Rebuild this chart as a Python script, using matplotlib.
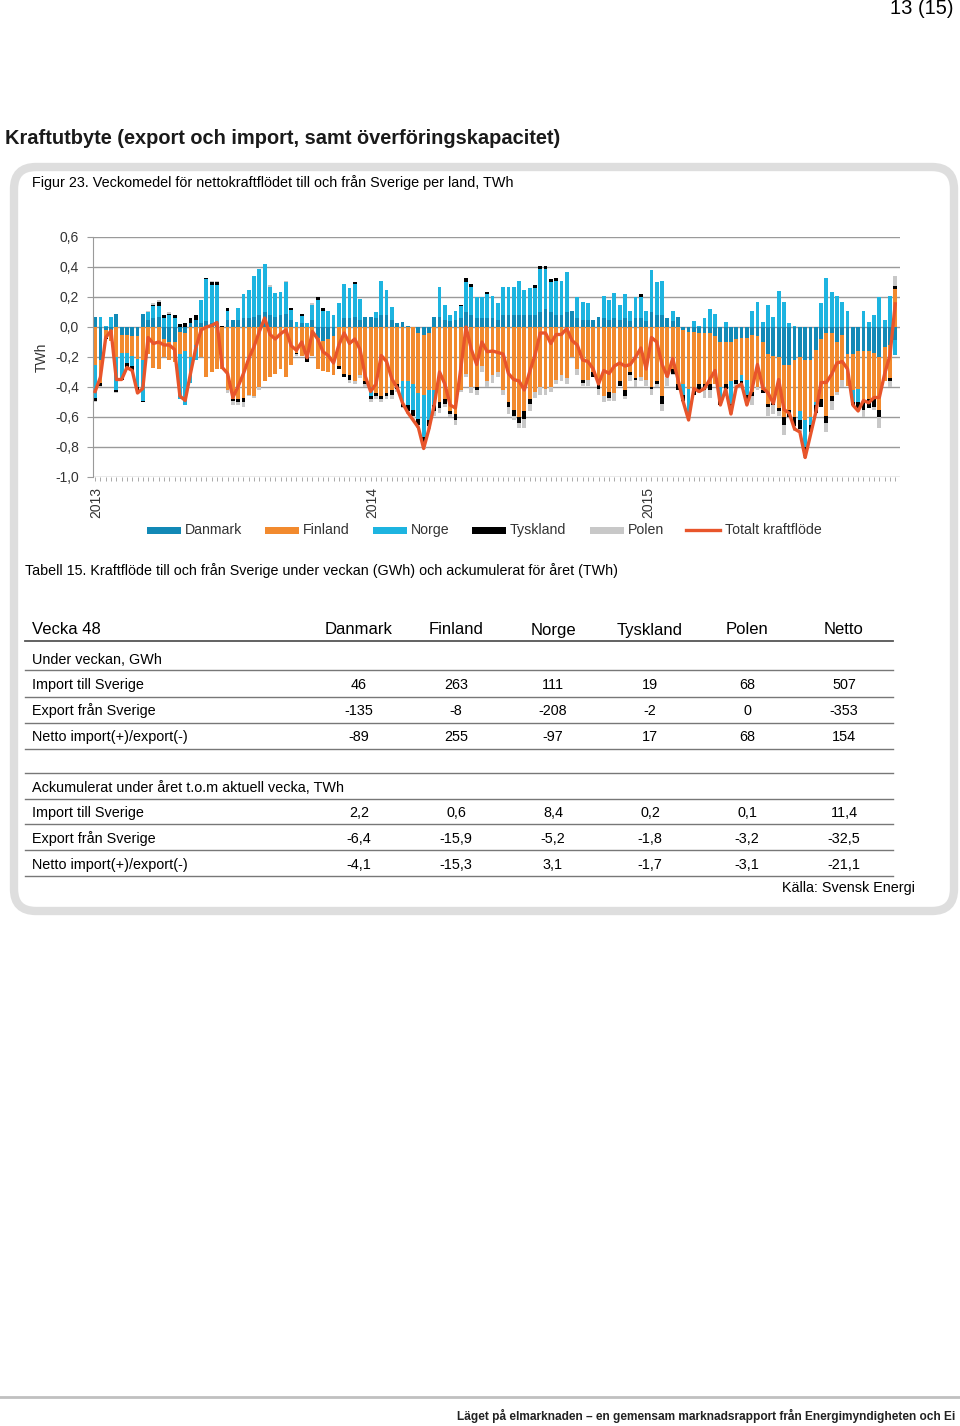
import numpy as np
import matplotlib
matplotlib.use("Agg")
import matplotlib.pyplot as plt
from matplotlib.patches import FancyBboxPatch, Rectangle
from matplotlib.lines import Line2D
import matplotlib.transforms as mtransforms

plt.rcParams['font.family'] = ['Liberation Sans', 'DejaVu Sans']

# weekly net flow per country, TWh (week 1 2013 .. week 48 2015)
danmark = [0.07, -0.22, -0.02, -0.02, 0.09, -0.05, -0.05, -0.06, -0.06, 0.09,
           0.05, 0.06, 0.07, -0.08, -0.10, -0.10, -0.03, -0.04, 0.03, 0.05,
           0.03, 0.04, 0.03, 0.03, 0.00, 0.05, 0.05, 0.05, 0.06, 0.06,
           0.07, 0.08, 0.10, 0.08, 0.07, 0.08, 0.09, 0.05, 0.00, 0.03,
           0.00, 0.05, -0.07, -0.09, -0.08, -0.06, 0.00, 0.06, 0.06, 0.07,
           0.05, 0.07, 0.07, 0.06, 0.08, 0.08, 0.05, 0.025, 0.035, 0.01,
           0.00, -0.04, -0.05, -0.04, 0.07, 0.07, 0.05, 0.04, 0.05, 0.06,
           0.10, 0.08, 0.06, 0.06, 0.06, 0.06, 0.05, 0.08, 0.08, 0.08,
           0.08, 0.08, 0.08, 0.08, 0.10, 0.12, 0.10, 0.08, 0.08, 0.10,
           0.11, 0.06, 0.05, 0.05, 0.05, 0.07, 0.06, 0.05, 0.06, 0.05,
           0.06, 0.04, 0.06, 0.06, 0.04, 0.10, 0.08, 0.08, 0.06, 0.04,
           0.07, -0.02, -0.03, -0.03, -0.04, -0.04, -0.04, -0.06, -0.10, -0.10,
           -0.10, -0.08, -0.07, -0.07, -0.05, -0.06, -0.10, -0.18, -0.19, -0.20,
           -0.25, -0.25, -0.22, -0.20, -0.22, -0.22, -0.15, -0.08, -0.04, -0.04,
           -0.10, -0.05, -0.18, -0.18, -0.16, -0.16, -0.16, -0.17, -0.20, -0.13,
           -0.12, -0.089]
finland = [-0.25, -0.15, -0.05, -0.07, -0.20, -0.12, -0.12, -0.13, -0.15, -0.22,
           -0.18, -0.27, -0.28, -0.12, -0.12, -0.13, -0.15, -0.12, -0.20, -0.12,
           -0.20, -0.33, -0.30, -0.28, -0.28, -0.42, -0.48, -0.48, -0.47, -0.45,
           -0.46, -0.40, -0.36, -0.33, -0.31, -0.28, -0.33, -0.25, -0.17, -0.19,
           -0.20, -0.19, -0.21, -0.20, -0.22, -0.26, -0.26, -0.31, -0.32, -0.36,
           -0.32, -0.36, -0.40, -0.44, -0.46, -0.44, -0.42, -0.38, -0.36, -0.36,
           -0.38, -0.40, -0.40, -0.38, -0.42, -0.50, -0.48, -0.56, -0.58, -0.42,
           -0.31, -0.40, -0.40, -0.26, -0.36, -0.32, -0.30, -0.42, -0.50, -0.55,
           -0.60, -0.56, -0.48, -0.43, -0.40, -0.41, -0.40, -0.35, -0.32, -0.34,
           -0.20, -0.28, -0.35, -0.35, -0.30, -0.38, -0.46, -0.43, -0.44, -0.36,
           -0.42, -0.30, -0.34, -0.33, -0.35, -0.40, -0.36, -0.46, -0.33, -0.28,
           -0.38, -0.36, -0.38, -0.39, -0.34, -0.34, -0.34, -0.32, -0.30, -0.28,
           -0.26, -0.27, -0.25, -0.28, -0.38, -0.34, -0.32, -0.33, -0.30, -0.34,
           -0.35, -0.30, -0.38, -0.36, -0.40, -0.38, -0.35, -0.40, -0.55, -0.42,
           -0.33, -0.30, -0.21, -0.24, -0.25, -0.33, -0.32, -0.30, -0.35, -0.23,
           -0.22, 0.255]
norge = [-0.22, 0.065, 0.01, 0.065, -0.22, -0.17, -0.07, -0.07, -0.19, -0.27,
         0.05, 0.08, 0.07, 0.06, 0.08, 0.06, -0.30, -0.36, -0.17, -0.10,
         0.15, 0.28, 0.25, 0.25, 0.00, 0.06, 0.00, 0.075, 0.16, 0.19,
         0.27, 0.31, 0.32, 0.19, 0.16, 0.155, 0.21, 0.065, 0.035, 0.045,
         0.025, 0.10, 0.18, 0.11, 0.11, 0.08, 0.16, 0.23, 0.20, 0.22,
         0.14, 0.00, -0.06, 0.04, 0.23, 0.17, 0.085, 0.00, -0.15, -0.16,
         -0.17, -0.17, -0.28, -0.20, -0.10, 0.20, 0.10, 0.04, 0.06, 0.08,
         0.20, 0.19, 0.14, 0.14, 0.16, 0.15, 0.11, 0.19, 0.19, 0.19,
         0.23, 0.17, 0.18, 0.18, 0.29, 0.27, 0.20, 0.23, 0.23, 0.27,
         0.00, 0.14, 0.12, 0.11, 0.00, 0.00, 0.15, 0.13, 0.17, 0.10,
         0.16, 0.07, 0.14, 0.14, 0.07, 0.28, 0.22, 0.23, 0.00, 0.07,
         0.00, -0.07, -0.17, 0.04, 0.01, 0.06, 0.12, 0.09, -0.08, 0.035,
         -0.15, 0.00, -0.04, -0.10, 0.11, 0.17, 0.035, 0.15, 0.07, 0.24,
         0.17, 0.025, 0.01, -0.06, -0.18, -0.05, -0.02, 0.16, 0.33, 0.235,
         0.21, 0.17, 0.11, -0.08, -0.09, 0.11, 0.035, 0.08, 0.20, 0.047,
         0.21, -0.097]
tyskland = [-0.02, -0.02, -0.01, 0.00, -0.01, -0.01, -0.03, -0.03, -0.03, -0.01,
            0.00, 0.01, 0.03, 0.02, 0.01, 0.02, 0.02, 0.03, 0.03, 0.03,
            0.00, 0.01, 0.02, 0.02, 0.01, 0.02, -0.01, -0.02, -0.03, 0.00,
            0.00, 0.00, 0.00, 0.00, 0.00, 0.00, 0.00, 0.01, -0.01, 0.015,
            -0.03, 0.00, 0.02, 0.015, 0.00, 0.00, -0.02, -0.02, -0.03, 0.01,
            0.00, -0.02, -0.02, -0.02, -0.02, -0.02, -0.03, -0.03, -0.02, -0.04,
            -0.04, -0.04, -0.05, -0.04, -0.04, -0.04, -0.03, -0.02, -0.04, 0.01,
            0.03, 0.02, -0.02, 0.00, 0.015, 0.00, 0.00, 0.00, -0.03, -0.04,
            -0.04, -0.05, -0.03, 0.02, 0.02, 0.02, 0.02, 0.02, 0.00, 0.00,
            0.00, 0.00, -0.02, 0.00, -0.03, -0.03, 0.00, -0.04, 0.00, -0.03,
            -0.04, -0.02, -0.01, 0.02, 0.00, -0.01, -0.02, -0.05, 0.00, -0.03,
            -0.04, -0.04, -0.03, -0.03, -0.04, -0.04, -0.04, 0.00, -0.04, -0.03,
            -0.05, -0.03, -0.02, -0.03, -0.03, 0.00, -0.02, -0.02, -0.03, -0.02,
            -0.05, -0.05, -0.06, -0.06, -0.06, -0.05, -0.05, -0.05, -0.05, -0.03,
            0.00, 0.00, 0.00, -0.02, -0.06, -0.06, -0.06, -0.06, -0.05, 0.00,
            -0.02, 0.017]
polen = [-0.01, -0.01, 0.00, 0.00, -0.01, 0.00, 0.00, 0.00, -0.01, 0.00,
         0.01, 0.01, 0.01, 0.00, 0.01, 0.00, 0.00, 0.00, 0.00, 0.00,
         0.00, 0.00, 0.01, 0.01, 0.00, -0.02, -0.03, -0.02, -0.03, -0.01,
         -0.01, -0.02, 0.00, 0.01, 0.00, 0.00, 0.01, 0.00, -0.01, 0.00,
         0.00, 0.01, 0.00, 0.00, 0.00, 0.00, 0.00, 0.00, -0.02, -0.02,
         -0.02, -0.02, -0.02, -0.02, -0.02, -0.02, -0.03, -0.02, -0.01, -0.02,
         -0.03, -0.02, -0.03, -0.02, -0.03, -0.03, -0.02, -0.02, -0.03, -0.01,
         -0.02, -0.04, -0.03, -0.04, -0.04, -0.05, -0.03, -0.03, -0.05, -0.03,
         -0.03, -0.06, -0.05, -0.04, -0.05, -0.04, -0.03, -0.03, -0.04, -0.04,
         0.00, -0.04, -0.02, -0.04, 0.00, -0.04, -0.04, -0.02, -0.05, 0.00,
         -0.02, -0.04, -0.05, -0.03, -0.04, -0.04, -0.02, -0.05, -0.06, -0.01,
         0.00, -0.01, -0.01, 0.00, -0.02, -0.05, -0.05, 0.00, 0.00, -0.04,
         -0.02, -0.02, 0.00, -0.04, -0.06, -0.02, 0.00, -0.06, -0.06, -0.03,
         -0.07, 0.00, -0.03, -0.02, -0.01, -0.02, 0.00, 0.00, -0.06, -0.06,
         -0.02, -0.05, 0.00, 0.00, 0.00, -0.05, 0.00, -0.02, -0.07, 0.00,
         -0.04, 0.068]

series_names = ['Danmark', 'Finland', 'Norge', 'Tyskland', 'Polen']
series_colors = ['#1289b6', '#f28a2e', '#1db4e0', '#000000', '#c8c8c8']
line_name = 'Totalt kraftflöde'
line_color = '#e8552b'

years = ['2013', '2014', '2015']
year_start_week = [0, 52, 104]
yticks = [0.6, 0.4, 0.2, 0.0, -0.2, -0.4, -0.6, -0.8, -1.0]

table_cols = ['Danmark', 'Finland', 'Norge', 'Tyskland', 'Polen', 'Netto']
week_rows = ['Import till Sverige', 'Export från Sverige', 'Netto import(+)/export(-)']
week_vals = [['46', '263', '111', '19', '68', '507'],
             ['-135', '-8', '-208', '-2', '0', '-353'],
             ['-89', '255', '-97', '17', '68', '154']]
acc_vals = [['2,2', '0,6', '8,4', '0,2', '0,1', '11,4'],
            ['-6,4', '-15,9', '-5,2', '-1,8', '-3,2', '-32,5'],
            ['-4,1', '-15,3', '3,1', '-1,7', '-3,1', '-21,1']]

W, H = 960, 1426
fig = plt.figure(figsize=(W / 100, H / 100), dpi=100)
fig.patch.set_facecolor('white')

# page-level canvas in pixel coordinates
bg = fig.add_axes([0, 0, 1, 1])
bg.set_xlim(0, W)
bg.set_ylim(H, 0)
bg.axis('off')

bg.add_patch(FancyBboxPatch((14, 167), 940, 744,
                            boxstyle='round,pad=0,rounding_size=22',
                            fc='white', ec='#dedede', lw=6))

bg.text(954, 8, '13 (15)', ha='right', va='center', fontsize=14.5)
bg.text(5, 139, 'Kraftutbyte (export och import, samt överföringskapacitet)',
        ha='left', va='center', fontsize=14.4, fontweight='bold', color='#1a1a1a')
bg.text(32, 183, 'Figur 23. Veckomedel för nettokraftflödet till och från Sverige per land, TWh',
        ha='left', va='center', fontsize=10.4)
bg.text(42, 357, 'TWh', ha='center', va='center', rotation=90, fontsize=10, color='#333333')

# chart
ax = fig.add_axes([93 / W, 1 - 477 / H, (900 - 93) / W, (477 - 237) / H])
data = np.array([danmark, finland, norge, tyskland, polen])
weeks = np.arange(data.shape[1])
pos_base = np.zeros(len(weeks))
neg_base = np.zeros(len(weeks))
for vals, name, col in zip(data, series_names, series_colors):
    pos = np.where(vals > 0, vals, 0)
    neg = np.where(vals < 0, vals, 0)
    ax.bar(weeks, pos, bottom=pos_base, width=0.72, color=col, lw=0, zorder=2)
    ax.bar(weeks, neg, bottom=neg_base, width=0.72, color=col, lw=0, zorder=2)
    pos_base += pos
    neg_base += neg
total = data.sum(axis=0)
ax.plot(weeks, total, color=line_color, lw=2.4, zorder=3)

ax.set_xlim(-0.4, len(weeks) - 0.1)
ax.set_ylim(-1.0, 0.6)
ax.set_yticks(yticks)
ax.set_yticklabels([f'{t:.1f}'.replace('.', ',') for t in yticks], fontsize=10, color='#333333')
for t in yticks:
    ax.axhline(t, color='#9a9a9a', lw=1.0, zorder=1)
for s in ['top', 'right', 'bottom']:
    ax.spines[s].set_visible(False)
ax.spines['left'].set_color('#9a9a9a')
ax.tick_params(axis='y', length=4, color='#9a9a9a', pad=6)
ax.set_xticks(weeks, minor=True)
ax.set_xticks([])
ax.tick_params(axis='x', which='minor', length=3, color='#9a9a9a', width=0.6)
ax.patch.set_alpha(0)

trans = mtransforms.blended_transform_factory(ax.transData, ax.transAxes)
for yr, wk in zip(years, year_start_week):
    ax.text(wk + 0.3, -0.04, yr, transform=trans, rotation=90, ha='center', va='top',
            fontsize=10, color='#333333')

# legend
legend_x = [147, 265, 373, 472, 590, 686]
for name, col, x in zip(series_names, series_colors, legend_x):
    bg.add_patch(Rectangle((x, 527), 34, 6.5, fc=col, ec='none'))
    bg.text(x + 38, 530, name, ha='left', va='center', fontsize=10.2, color='#333333')
bg.add_line(Line2D([legend_x[-1], legend_x[-1] + 34], [530, 530], color=line_color, lw=2.4))
bg.text(legend_x[-1] + 39, 530, line_name, ha='left', va='center', fontsize=10.2, color='#333333')

# table
bg.text(25, 571, 'Tabell 15. Kraftflöde till och från Sverige under veckan (GWh) och ackumulerat för året (TWh)',
        ha='left', va='center', fontsize=10.3)
col_x = [359, 456, 553, 650, 747, 844]
bg.text(32, 630, 'Vecka 48', ha='left', va='center', fontsize=12)
for c, x in zip(table_cols, col_x):
    bg.text(x, 630, c, ha='center', va='center', fontsize=12)

def hline(y, lw=1.0, color='#777777'):
    bg.add_line(Line2D([25, 893], [y, y], color=color, lw=lw))

hline(641, 1.3, '#555555')
bg.text(32, 660, 'Under veckan, GWh', ha='left', va='center', fontsize=10.4)
hline(670)
row_y = [685, 711, 737]
for label, vals, y in zip(week_rows, week_vals, row_y):
    bg.text(32, y, label, ha='left', va='center', fontsize=10.4)
    for v, x in zip(vals, col_x):
        bg.text(x, y, v, ha='center', va='center', fontsize=10.4)
    hline(y + 12)

hline(773)
bg.text(32, 788, 'Ackumulerat under året t.o.m aktuell vecka, TWh', ha='left', va='center', fontsize=10.4)
hline(799)
row_y2 = [813, 839, 865]
for label, vals, y in zip(week_rows, acc_vals, row_y2):
    bg.text(32, y, label, ha='left', va='center', fontsize=10.4)
    for v, x in zip(vals, col_x):
        bg.text(x, y, v, ha='center', va='center', fontsize=10.4)
    hline(y + 11)

bg.text(915, 888, 'Källa: Svensk Energi', ha='right', va='center', fontsize=10.4)

# footer
bg.add_line(Line2D([0, W], [1397, 1397], color='#c0c0c0', lw=2))
bg.text(955, 1416, 'Läget på elmarknaden – en gemensam marknadsrapport från Energimyndigheten och Ei',
        ha='right', va='center', fontsize=8.6, fontweight='bold', color='#222222')

fig.savefig('out.png', dpi=100)
